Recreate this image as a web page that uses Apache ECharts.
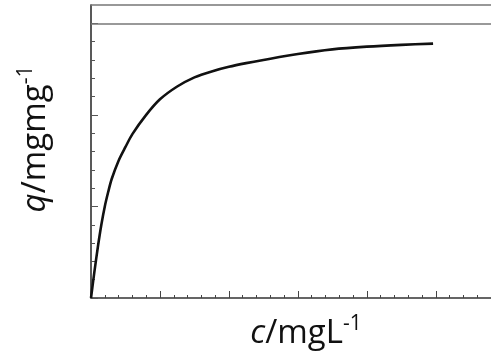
<!DOCTYPE html>
<html>
<head>
<meta charset="utf-8">
<script src="https://cdn.jsdelivr.net/npm/echarts@6/dist/echarts.min.js"></script>
<style>
html,body{margin:0;padding:0;background:#fff;}
#chart{width:491px;height:354px;}
</style>
</head>
<body>
<div id="chart"></div>
<script>
// concentration c (x) and adsorbed amount q (y)
var cValues = [0, 0.05, 0.10, 0.15, 0.20, 0.25, 0.30, 0.40, 0.50, 0.60, 0.80, 1.00, 1.25, 1.50, 1.75, 2.00, 2.25, 2.50, 3.00, 3.50, 4.00, 4.50, 4.96];
var qValues = [0, 0.29, 0.56, 0.80, 1.00, 1.16, 1.30, 1.50, 1.65, 1.79, 2.00, 2.17, 2.31, 2.41, 2.475, 2.525, 2.565, 2.60, 2.665, 2.715, 2.745, 2.765, 2.778];
var xMajorTicks = [0, 1, 2, 3, 4, 5];
var xMinorTicks = [0.2, 0.4, 0.6, 0.8, 1.2, 1.4, 1.6, 1.8, 2.2, 2.4, 2.6, 2.8, 3.2, 3.4, 3.6, 3.8, 4.2, 4.4, 4.6, 4.8, 5.2, 5.4, 5.6];
var yMajorTicks = [0, 1, 2, 3];
var yMinorTicks = [0.2, 0.4, 0.6, 0.8, 1.2, 1.4, 1.6, 1.8, 2.2, 2.4, 2.6, 2.8];
var yRefLine = 3;
var xTitle = '{i|c}{n|/mgL}{sup|-1}';
var yTitle = '{i|q}{n|/mgmg}{sup|-1}';

var points = cValues.map(function (c, i) { return [c, qValues[i]]; });

var chart = echarts.init(document.getElementById('chart'), null, {renderer: 'canvas'});
var font = '"Open Sans", Lato, sans-serif';
var fs = 33;
var titleStyle = function (txt) {
  return {
    text: txt, fontFamily: font, fontSize: fs, fill: '#111',
    align: 'center', verticalAlign: 'middle',
    rich: {
      n: {fontFamily: font, fontSize: fs, fill: '#111', color: '#111'},
      i: {fontFamily: font, fontSize: fs, fontStyle: 'italic', fill: '#111', color: '#111'},
      sup: {fontFamily: font, fontSize: 21, fill: '#111', color: '#111', padding: [0, 0, 19, 0]}
    }
  };
};
var baseX = {
  type: 'value', min: 0, max: 5.8, position: 'bottom',
  axisLabel: {show: false}, splitLine: {show: false}
};
chart.setOption({
  animation: false,
  backgroundColor: '#fff',
  grid: {left: 91, top: 5, right: 0, bottom: 56, containLabel: false},
  xAxis: [
    Object.assign({}, baseX, {
      axisLine: {show: true, lineStyle: {color: '#333', width: 1.5}},
      axisTick: {show: true, inside: true, length: 7, customValues: xMajorTicks, lineStyle: {color: '#444', width: 1}}
    }),
    Object.assign({}, baseX, {
      axisLine: {show: false},
      axisTick: {show: true, inside: true, length: 3, customValues: xMinorTicks, lineStyle: {color: '#444', width: 1}}
    }),
    {
      type: 'value', min: 0, max: 5.8, position: 'top',
      axisLine: {show: true, onZero: false, lineStyle: {color: '#777', width: 1.5}},
      axisTick: {show: false}, axisLabel: {show: false}, splitLine: {show: false}
    }
  ],
  yAxis: [{
    type: 'value', min: 0, max: 3.2, position: 'left',
    axisLine: {show: true, lineStyle: {color: '#222', width: 1.5}},
    axisTick: {show: true, inside: true, length: 7, customValues: yMajorTicks, lineStyle: {color: '#555', width: 1}},
    axisLabel: {show: false},
    splitLine: {show: false}
  }, {
    type: 'value', min: 0, max: 3.2, position: 'left', offset: 0,
    axisLine: {show: false},
    axisTick: {show: true, inside: true, length: 4, customValues: yMinorTicks, lineStyle: {color: '#555', width: 1}},
    axisLabel: {show: false}, splitLine: {show: false}
  }],
  graphic: [
    {type: 'text', x: 306, y: 334, style: titleStyle(xTitle)},
    {type: 'text', x: 36, y: 139, rotation: Math.PI / 2, style: titleStyle(yTitle)}
  ],
  series: [{
    type: 'line', xAxisIndex: 0, yAxisIndex: 0,
    data: points, showSymbol: false, symbol: 'none',
    smooth: 0.3,
    lineStyle: {color: '#111', width: 2.6},
    markLine: {
      silent: true, symbol: 'none', label: {show: false},
      lineStyle: {color: '#777', width: 1.5, type: 'solid'},
      data: [{yAxis: yRefLine}]
    }
  }]
});
</script>
</body>
</html>
